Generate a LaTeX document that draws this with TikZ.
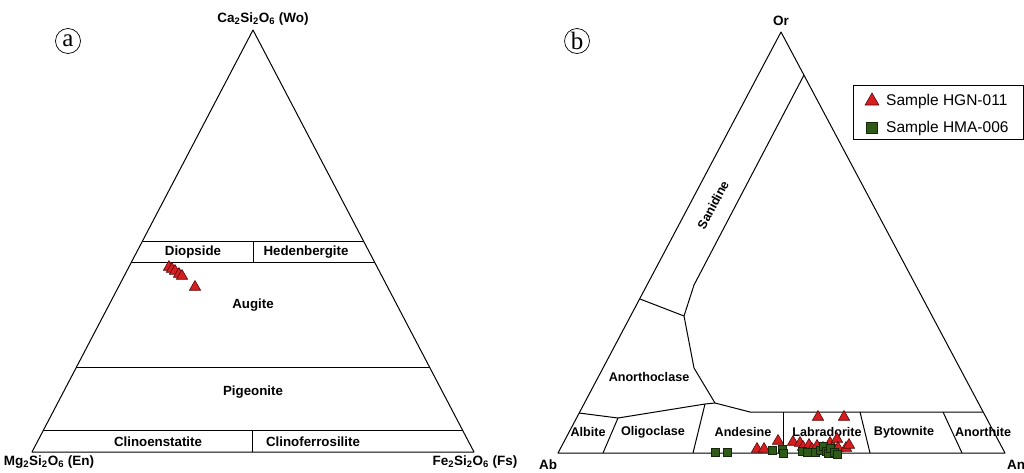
\documentclass[tikz,border=0pt]{standalone}
\usepackage{fontspec}
\setmainfont{Liberation Sans}
\newfontfamily\circfont{Liberation Serif}
\usetikzlibrary{calc, positioning, shapes.geometric}
\definecolor{hgnred}{RGB}{214,30,32}
\definecolor{hmagreen}{RGB}{48,90,24}
\tikzset{
  edge/.style  = {draw=black, line width=1pt, line join=round},
  fldA/.style  = {font=\fontsize{13.3}{13.3}\selectfont\bfseries, inner sep=0pt},
  fldB/.style  = {font=\fontsize{12.6}{12.6}\selectfont\bfseries, inner sep=0pt},
  vlab/.style  = {font=\fontsize{13.5}{13.5}\selectfont\bfseries, inner sep=0pt},
  panlab/.style= {draw=black, circle, line width=0.7pt, minimum size=25pt, inner sep=0pt,
                  font=\circfont\fontsize{25}{25}\selectfont},
  hgn/.style   = {regular polygon, regular polygon sides=3, draw=hgnred!40!black,
                  fill=hgnred, line width=0.6pt, minimum size=13pt, inner sep=0pt},
  hma/.style   = {rectangle, draw=hmagreen!45!black, fill=hmagreen, line width=0.5pt,
                  minimum size=8pt, inner sep=0pt},
  lgd/.style   = {font=\fontsize{15.5}{15.5}\selectfont, inner sep=0pt},
}
\begin{document}
\begin{tikzpicture}[x=1pt, y=-1pt]
\useasboundingbox (0,0) rectangle (1024,472);

% (a) pyroxene triangle
\coordinate (en) at (32,452);
\coordinate (fs) at (474,452);
\coordinate (wo) at (253,30);
\draw[edge] (en) -- (fs) -- (wo) -- cycle;
\foreach \t in {0.5,0.45,0.2,0.05}
  \draw[edge] ($(en)!\t!(wo)$) -- ($(fs)!\t!(wo)$);
\draw[edge] (253.5,241) -- (253.5,262);
\draw[edge] (252.5,431) -- (252.5,452);

\node[panlab] (pa) at (68,41) {a};
\node[vlab] (lwo) at (263,19) {Ca\textsubscript{2}Si\textsubscript{2}O\textsubscript{6} (Wo)};
\node[vlab] (len) at (49,462) {Mg\textsubscript{2}Si\textsubscript{2}O\textsubscript{6} (En)};
\node[vlab] (lfs) at (475,462) {Fe\textsubscript{2}Si\textsubscript{2}O\textsubscript{6} (Fs)};
\node[fldA] (di) at (193,252) {Diopside};
\node[fldA] (hd) at (306,252) {Hedenbergite};
\node[fldA] (au) at (253,305) {Augite};
\node[fldA] (pg) at (253,392) {Pigeonite};
\node[fldA] (ce) at (158,442) {Clinoenstatite};
\node[fldA] (cf) at (313,442) {Clinoferrosilite};

\foreach \x/\y [count=\i] in {169/267,172/269,175/271,179/274,182/276,195/287}
  \node[hgn] (pa\i) at (\x,\y) {};

% (b) feldspar triangle
\coordinate (ab) at (558,453);
\coordinate (an) at (1005,453);
\coordinate (or) at (781,32);
\draw[edge] (ab) -- (an) -- (or) -- cycle;
\draw[edge] (804,75) -- (694,285) -- (684,316) -- (694,368) -- (715,403);
\draw[edge] (640,299) -- (684,316);
\draw[edge] (579,413) -- (618,418) -- (705,404) -- (715,403) -- (750,412) -- (983,412);
\draw[edge] (618,418) -- (603,453);
\draw[edge] (705,404) -- (693,453);
\draw[edge] (783,412) -- (783,453);
\draw[edge] (860,412) -- (870,453);
\draw[edge] (943,412) -- (962,453);

\node[panlab] (pb) at (577,41) {b};
\node[vlab] (lor) at (781,21) {Or};
\node[vlab] (lab) at (548,465) {Ab};
\node[vlab, anchor=west] (lan) at (1007,465) {An};
\node[fldB, rotate=62] (sa) at (713,205) {Sanidine};
\node[fldB] (ac) at (649,377) {Anorthoclase};
\node[fldB] (al) at (588,432) {Albite};
\node[fldB] (ol) at (653,432) {Oligoclase};
\node[fldB] (ad) at (743,432) {Andesine};
\node[fldB] (lb) at (827,432) {Labradorite};
\node[fldB] (by) at (904,432) {Bytownite};
\node[fldB] (ao) at (983,432) {Anorthite};

\foreach \x/\y [count=\i] in {818/417,844/417,757/449,764/449,778/441,793/442,800/443,
    803/447,809/445,812/449,817/446,823/448,830/443,833/447,837/439,838/448,846/448,849/445}
  \node[hgn] (pb\i) at (\x,\y) {};
\foreach \x/\y [count=\i] in {715/452,727/452,772/450,782/449,783/453,802/451,807/452,
    815/452,820/450,823/446,826/451,828/453,830/448,834/452,837/454}
  \node[hma] (qb\i) at (\x,\y) {};

% legend
\draw[line width=1pt] (853,85) rectangle (1023,139);
\node[hgn, minimum size=16pt] (kh) at (872,101) {};
\node[hma, minimum size=11pt] (km) at (872,128) {};
\node[lgd, right=14pt of kh.center, anchor=west] (th) {Sample HGN-011};
\node[lgd, right=14pt of km.center, anchor=west] (tm) {Sample HMA-006};
\end{tikzpicture}
\end{document}
